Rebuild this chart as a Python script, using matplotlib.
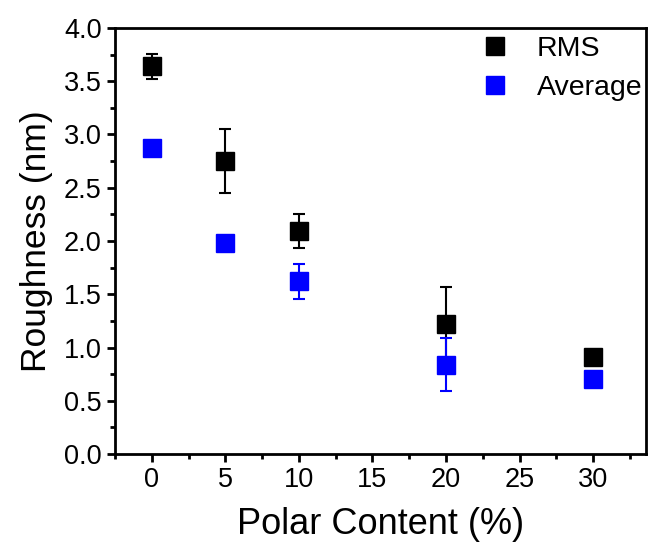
import matplotlib
matplotlib.use("Agg")
import matplotlib.pyplot as plt
from matplotlib.ticker import MultipleLocator

plt.rcParams['font.family'] = ['Liberation Sans', 'DejaVu Sans']

polar_content = [0, 5, 10, 20, 30]
rms = [3.64, 2.75, 2.09, 1.22, 0.91]
rms_err = [0.12, 0.30, 0.16, 0.35, 0.02]
average = [2.87, 1.98, 1.62, 0.84, 0.70]
average_err = [0.05, 0.03, 0.16, 0.25, 0.02]

fig = plt.figure(figsize=(6.48, 5.48), dpi=100)
ax = fig.add_axes([0.1775, 0.1715, 0.8195, 0.7775])

ax.errorbar(polar_content, rms, yerr=rms_err, fmt='s', color='black',
            ecolor='black', markersize=13, elinewidth=1.5, capsize=4,
            capthick=1.5, label='RMS', zorder=3)
ax.errorbar(polar_content, average, yerr=average_err, fmt='s', color='#0000ff',
            ecolor='#0000ff', markersize=13, elinewidth=1.5, capsize=4,
            capthick=1.5, label='Average', zorder=3)

ax.set_xlim(-2.5, 33.6)
ax.set_ylim(0, 4.0)
ax.xaxis.set_major_locator(MultipleLocator(5))
ax.xaxis.set_minor_locator(MultipleLocator(2.5))
ax.yaxis.set_major_locator(MultipleLocator(0.5))
ax.yaxis.set_minor_locator(MultipleLocator(0.25))

for s in ax.spines.values():
    s.set_linewidth(2.0)
ax.tick_params(which='major', direction='out', length=6, width=2.0, labelsize=19.5)
ax.tick_params(which='minor', direction='out', length=3.5, width=2.0)

ax.set_xlabel('Polar Content (%)', fontsize=26, labelpad=10)
ax.set_ylabel('Roughness (nm)', fontsize=25.5, labelpad=8)

handles, labels = ax.get_legend_handles_labels()
handles = [h[0] for h in handles]
ax.legend(handles, labels, loc='upper right', bbox_to_anchor=(0.998, 0.988),
          frameon=False, fontsize=20.5, handlelength=2.0, handletextpad=0.45,
          borderaxespad=0.0, borderpad=0.1, labelspacing=0.45,
          markerscale=0.95)

fig.savefig('out.png', dpi=100)
